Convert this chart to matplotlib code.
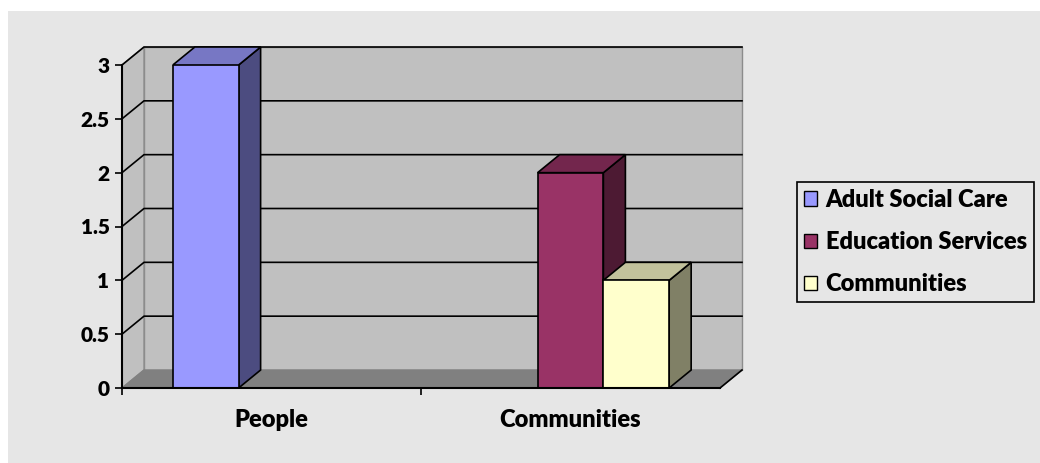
import matplotlib
matplotlib.use("Agg")
import matplotlib.pyplot as plt
from matplotlib.patches import Polygon, Rectangle, Patch

# datos del gráfico
categorias = ["People", "Communities"]
series = ["Adult Social Care", "Education Services", "Communities"]
adult_social_care = [3, 0]
education_services = [0, 2]
communities = [0, 1]
y_ticks = [0, 0.5, 1, 1.5, 2, 2.5, 3]

colores_frente = ["#9999FF", "#993366", "#FFFFCC"]
colores_lado = ["#4C4C80", "#4D1A33", "#808066"]
colores_tapa = ["#7777C4", "#73264D", "#C2C29C"]

plt.rcParams["font.family"] = ["Lato", "DejaVu Sans"]
plt.rcParams["font.weight"] = "heavy"

W, H = 1040, 463
fig = plt.figure(figsize=(W / 100, H / 100), dpi=100, facecolor="white")
# fondo gris del área del gráfico
fig.patches.append(Rectangle((8 / W, 0), 1, (H - 11) / H, transform=fig.transFigure,
                             facecolor="#E6E6E6", edgecolor="none", zorder=-5))

ax = fig.add_axes([122 / W, (H - 388) / H, 598 / W, 323 / H])
ax.set_facecolor("none")
ymax = y_ticks[-1]
n = len(categorias)
ax.set_xlim(0, n)
ax.set_ylim(0, ymax)

# profundidad 3D en unidades de datos (aprox 22 px a la derecha, 18 px hacia arriba)
dx = 22 / 598 * n
dy = 18 / 323 * ymax

# paredes y suelo
ax.add_patch(Polygon([(dx, dy), (n + dx, dy), (n + dx, ymax + dy), (dx, ymax + dy)],
                     facecolor="#C0C0C0", edgecolor="#8C8C8C", lw=1, zorder=1, clip_on=False))
ax.add_patch(Polygon([(0, 0), (dx, dy), (dx, ymax + dy), (0, ymax)],
                     facecolor="#C0C0C0", edgecolor="#8C8C8C", lw=1, zorder=1, clip_on=False))
ax.add_patch(Polygon([(0, 0), (n, 0), (n + dx, dy), (dx, dy)],
                     facecolor="#808080", edgecolor="#808080", lw=1, zorder=1, clip_on=False))
ax.plot([n, n + dx], [0, dy], color="black", lw=1.2, zorder=2, clip_on=False)

# líneas de división
for v in y_ticks[1:]:
    ax.plot([0, dx, n + dx], [v, v + dy, v + dy], color="black", lw=1.2, zorder=2, clip_on=False)

# barras 3D
ancho = 0.22
valores = [adult_social_care, education_services, communities]
for i_cat in range(n):
    for j, vals in enumerate(valores):
        v = vals[i_cat]
        if v <= 0:
            continue
        x0 = i_cat + 0.5 + (j - 1) * ancho - ancho / 2
        x1 = x0 + ancho
        z = 3 + i_cat * 3 + j
        ax.bar(x0, v, width=ancho, align="edge", color=colores_frente[j],
               edgecolor="black", lw=1.2, zorder=z + 0.2)
        ax.add_patch(Polygon([(x1, 0), (x1 + dx, dy), (x1 + dx, v + dy), (x1, v)],
                             facecolor=colores_lado[j], edgecolor="black", lw=1.2,
                             zorder=z, clip_on=False))
        ax.add_patch(Polygon([(x0, v), (x1, v), (x1 + dx, v + dy), (x0 + dx, v + dy)],
                             facecolor=colores_tapa[j], edgecolor="black", lw=1.2,
                             zorder=z + 0.1, clip_on=False))

# ejes
for lado in ["top", "right"]:
    ax.spines[lado].set_visible(False)
for lado in ["left", "bottom"]:
    ax.spines[lado].set_linewidth(1.5)
    ax.spines[lado].set_zorder(20)
ax.set_yticks(y_ticks)
ax.set_yticklabels([f"{t:g}" for t in y_ticks])
ax.tick_params(axis="y", direction="out", length=5, width=1.2, pad=4, labelsize=15)
ax.set_xticks(range(n))
ax.set_xticklabels([])
ax.set_xticks([i + 0.5 for i in range(n)], minor=True)
ax.set_xticklabels(categorias, minor=True)
ax.tick_params(axis="x", which="major", direction="out", length=5, width=1.2)
ax.tick_params(axis="x", which="minor", length=0, pad=15, labelsize=17)

# leyenda
handles = [Patch(facecolor=c, edgecolor="black", lw=1) for c in colores_frente]
leg = fig.legend(handles, series, loc="center left", bbox_to_anchor=(797 / W, (H - 242) / H),
                 frameon=True, fancybox=False, framealpha=1, facecolor="#E6E6E6",
                 edgecolor="black", fontsize=17, handlelength=0.55, handleheight=0.55,
                 handletextpad=0.36, labelspacing=0.85, borderpad=0.3, borderaxespad=0)
leg.get_frame().set_linewidth(1.2)

fig.savefig("out.png", dpi=100, facecolor=fig.get_facecolor())
